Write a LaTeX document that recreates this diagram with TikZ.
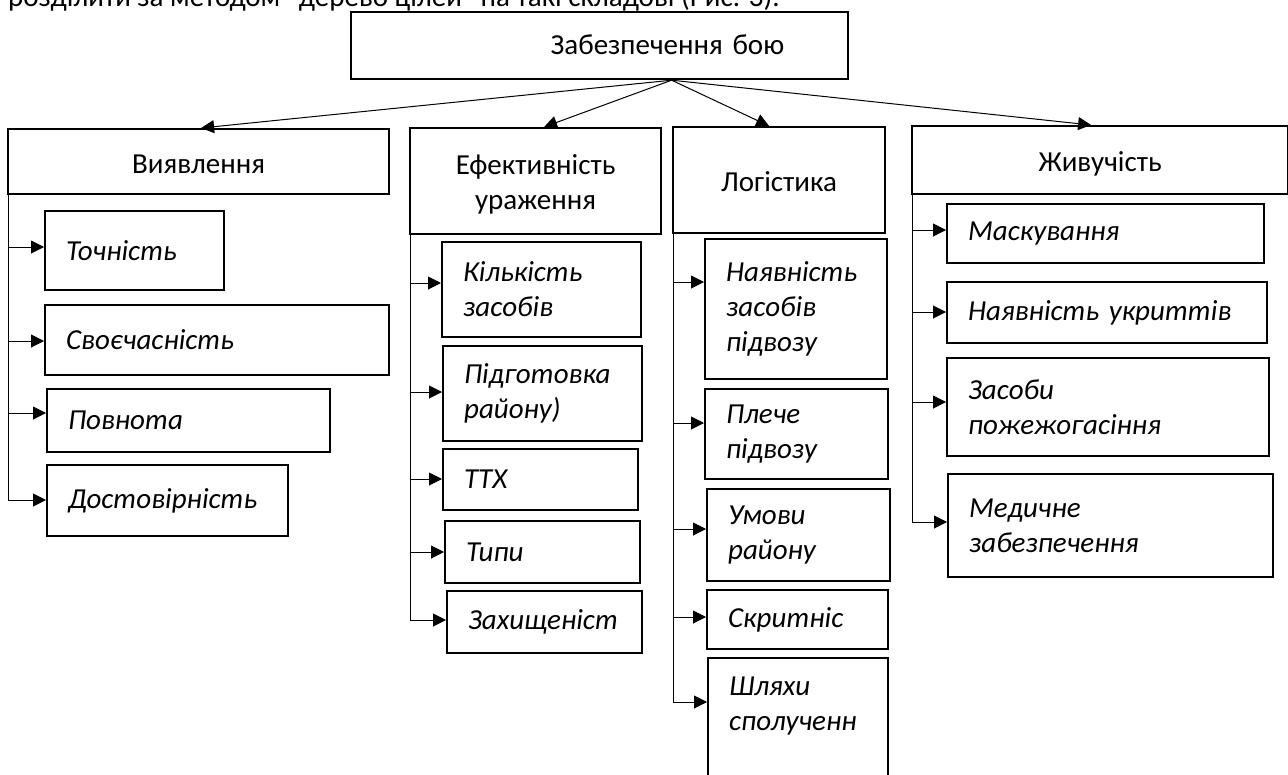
\documentclass[tikz,border=0pt]{standalone}
\usepackage{fontspec}
\setmainfont{Carlito}
\usetikzlibrary{calc,arrows.meta}
\newcommand{\fsz}{\fontsize{29}{35}\selectfont}
\begin{document}
\begin{tikzpicture}[x=1pt,y=-1pt,
  box/.style={draw, line width=2.2pt, inner sep=0pt, anchor=north west, font=\fsz, align=center},
  one/.style={text height=25pt, text depth=1.3pt},
  leaf/.style 2 args={draw, line width=2.2pt, inner ysep=0pt, inner xsep=21pt, anchor=north west,
     font=\fsz\itshape, align=left, minimum width=#1pt, minimum height=#2pt, text width=#1pt-42pt},
  conn/.style={line width=1pt},
  arr/.style={conn, -{Triangle[length=13pt,width=13pt]}},
]
\useasboundingbox (0,0) rectangle (1288,774);
\clip (0,0) rectangle (1288,774);

\node[anchor=base west, font=\fsz, inner sep=0pt] (intro) at (8,6) {розділити за методом “дерево цілей” на такі складові (Рис. 3).};

\node[box, minimum width=497pt, minimum height=67pt, text width=369pt, align=right, inner xsep=64pt, text height=20pt, text depth=1.3pt] (top) at (350,11) {Забезпечення бою};

\node[box, one, minimum width=381pt, minimum height=65pt] (vyav) at (7,128) {Виявлення};
\node[box, minimum width=251pt, minimum height=106pt, text width=251pt, text height=6pt, text depth=19.8pt] (efekt) at (409,127) {Ефективність\\ураження};
\node[box, one, minimum width=212pt, minimum height=106pt] (logist) at (672,126) {Логістика};
\node[box, one, minimum width=376pt, minimum height=68pt] (zhyv) at (911,125) {Живучість};

\node[leaf={179}{79}] (c11) at (44,210) {Точність};
\node[leaf={344}{70}] (c12) at (44,304) {Своєчасність};
\node[leaf={283}{63}] (c13) at (46,388) {Повнота};
\node[leaf={241}{71}] (c14) at (46,464) {Достовірність};

\node[leaf={199}{95}] (c21) at (441,241) {Кількість\\засобів};
\node[leaf={199}{95}] (c22) at (442,345) {Підготовка\\району)};
\node[leaf={195}{61}] (c23) at (442,448) {ТТХ};
\node[leaf={195}{62}] (c24) at (444,520) {Типи};
\node[leaf={195}{62}] (c25) at (446,590) {Захищеніст};

\node[leaf={182}{140}] (c31) at (704,238) {Наявність\\засобів\\підвозу};
\node[leaf={183}{90}] (c32) at (704,388) {Плече\\підвозу};
\node[leaf={183}{92}] (c33) at (706,488) {Умови\\району};
\node[leaf={181}{59}] (c34) at (706,589) {Скритніс};
\node[leaf={180}{126}] (c35) at (707,657) {Шляхи\\сполученн\\~};

\node[leaf={317}{59}] (c41) at (946,203) {Маскування};
\node[leaf={320}{61}] (c42) at (946,281) {Наявність укриттів};
\node[leaf={322}{98}] (c43) at (946,357) {Засоби\\пожежогасіння};
\node[leaf={325}{103}] (c44) at (947,473) {Медичне\\забезпечення};

\coordinate (hub) at ($(top.south)+(72,0)$);
\draw[arr] (hub) -- ($(vyav.north)+(2.5,0)$);
\draw[arr] (hub) -- ($(efekt.north)+(8.5,0)$);
\draw[arr] (hub) -- ($(logist.north)+(-10,0)$);
\draw[arr] (hub) -- ($(zhyv.north)+(-9,0)$);

\draw[arr] ($(vyav.south west)+(1,0)$) |- ($(c11.north west)+(0,37)$);
\draw[arr] ($(vyav.south west)+(1,0)$) |- ($(c12.north west)+(0,37)$);
\draw[arr] ($(vyav.south west)+(1,0)$) |- ($(c13.north west)+(0,25)$);
\draw[arr] ($(vyav.south west)+(1,0)$) |- ($(c14.north west)+(0,36)$);

\draw[arr] ($(efekt.south west)+(1,0)$) |- ($(c21.north west)+(0,42)$);
\draw[arr] ($(efekt.south west)+(1,0)$) |- ($(c22.north west)+(0,47)$);
\draw[arr] ($(efekt.south west)+(1,0)$) |- ($(c23.north west)+(0,31)$);
\draw[arr] ($(efekt.south west)+(1,0)$) |- ($(c24.north west)+(0,32)$);
\draw[arr] ($(efekt.south west)+(1,0)$) |- ($(c25.north west)+(0,30)$);

\draw[arr] ($(logist.south west)+(1,0)$) |- ($(c31.north west)+(0,44)$);
\draw[arr] ($(logist.south west)+(1,0)$) |- ($(c32.north west)+(0,35)$);
\draw[arr] ($(logist.south west)+(1,0)$) |- ($(c33.north west)+(0,41)$);
\draw[arr] ($(logist.south west)+(1,0)$) |- ($(c34.north west)+(0,28)$);
\draw[arr] ($(logist.south west)+(1,0)$) |- ($(c35.north west)+(0,45)$);

\draw[arr] ($(zhyv.south west)+(1,0)$) |- ($(c41.north west)+(0,27)$);
\draw[arr] ($(zhyv.south west)+(1,0)$) |- ($(c42.north west)+(0,31)$);
\draw[arr] ($(zhyv.south west)+(1,0)$) |- ($(c43.north west)+(0,45)$);
\draw[arr] ($(zhyv.south west)+(1,0)$) |- ($(c44.north west)+(0,49)$);
\end{tikzpicture}
\end{document}
